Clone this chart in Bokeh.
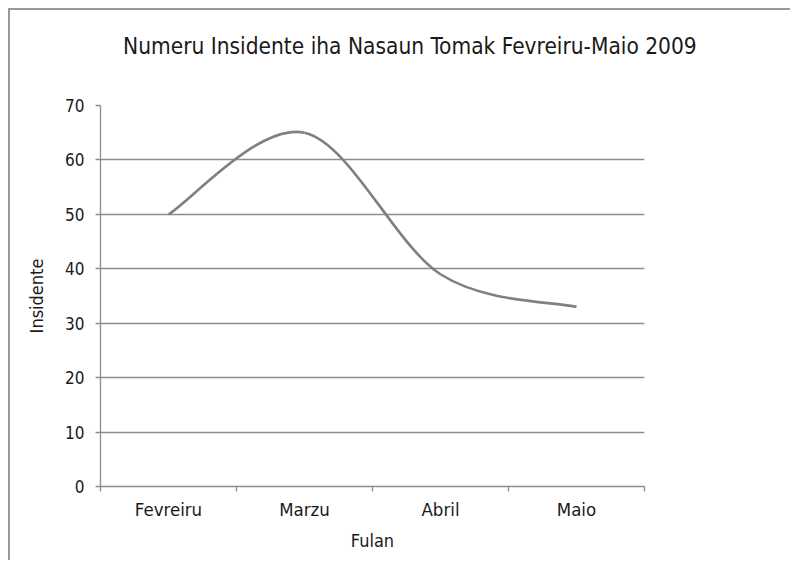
from bokeh.plotting import figure
from bokeh.models import Range1d, FixedTicker, Div
from bokeh.layouts import column
from bokeh.embed import file_html
from bokeh.resources import INLINE

# ---- data ----
months = ["Fevreiru", "Marzu", "Abril", "Maio"]
incidents = [50, 65, 39, 33]
y_ticks = [0, 10, 20, 30, 40, 50, 60, 70]
title_text = "Numeru Insidente iha Nasaun Tomak Fevreiru-Maio 2009"

FONT = "DejaVu Sans Condensed"
GREY = "#8c8c8c"

n = len(months)
xs = [i + 0.5 for i in range(n)]
centers = xs
bounds = [float(i) for i in range(n + 1)]

TITLE_H = 58
title_div = Div(
    text=(f"<div style=\"font-family:'{FONT}';font-size:22.5px;color:#1a1a1a;"
          f"line-height:1;padding-left:113px;padding-top:25px;white-space:nowrap\">"
          f"{title_text}</div>"),
    width=780, height=TITLE_H, margin=0)

p = figure(width=780, height=550 - TITLE_H, output_backend="svg", toolbar_location=None,
           x_range=Range1d(0, n), y_range=Range1d(y_ticks[0], y_ticks[-1]),
           min_border_left=90, min_border_right=146, min_border_top=95 - TITLE_H,
           min_border_bottom=74, margin=0)
p.title = None
p.outline_line_color = None
p.background_fill_color = "white"
p.border_fill_color = "white"

# smooth curve (Bezier) from data points
cx0, cy0, cx1, cy1 = [], [], [], []
for i in range(n - 1):
    xm1, ym1 = (xs[i - 1], incidents[i - 1]) if i > 0 else (xs[i], incidents[i])
    xp2, yp2 = (xs[i + 2], incidents[i + 2]) if i + 2 < n else (xs[i + 1], incidents[i + 1])
    cx0.append(xs[i] + (xs[i + 1] - xm1) / 6)
    cy0.append(incidents[i] + (incidents[i + 1] - ym1) / 6)
    cx1.append(xs[i + 1] - (xp2 - xs[i]) / 6)
    cy1.append(incidents[i + 1] - (yp2 - incidents[i]) / 6)
p.bezier(x0=xs[:-1], y0=incidents[:-1], x1=xs[1:], y1=incidents[1:],
         cx0=cx0, cy0=cy0, cx1=cx1, cy1=cy1,
         line_color="#808080", line_width=2.6)

# axes
p.xaxis.ticker = FixedTicker(ticks=centers, minor_ticks=bounds)
p.xaxis.major_label_overrides = {c: m for c, m in zip(centers, months)}
p.xaxis.major_tick_out = 0
p.xaxis.major_tick_in = 0
p.xaxis.minor_tick_out = 5
p.xaxis.minor_tick_in = 0
p.xaxis.minor_tick_line_color = GREY
p.xaxis.axis_label = "Fulan"

p.yaxis.ticker = FixedTicker(ticks=y_ticks)
p.yaxis.major_tick_out = 5
p.yaxis.major_tick_in = 0
p.yaxis.minor_tick_line_color = None
p.yaxis.axis_label = "Insidente"

for ax in (p.xaxis[0], p.yaxis[0]):
    ax.axis_line_color = GREY
    ax.axis_line_width = 1.3
    ax.major_tick_line_color = GREY
    ax.major_tick_line_width = 1.3
    ax.minor_tick_line_width = 1.3
    ax.major_label_text_font = FONT
    ax.major_label_text_color = "#1a1a1a"
    ax.axis_label_text_font = FONT
    ax.axis_label_text_font_size = "18px"
    ax.axis_label_text_font_style = "normal"
    ax.axis_label_text_color = "#1a1a1a"

p.xaxis.major_label_text_font_size = "18.5px"
p.yaxis.major_label_text_font_size = "17px"
p.xaxis.major_label_standoff = 7
p.xaxis.axis_label_standoff = 7
p.yaxis.major_label_standoff = 11
p.yaxis.axis_label_standoff = 15

p.xgrid.visible = False
p.ygrid.grid_line_color = GREY
p.ygrid.grid_line_width = 1.3

layout = column(title_div, p, spacing=0)
layout.styles = {"margin-left": "8px", "margin-top": "8px", "background-color": "white",
                 "border-left": "2px solid #9a9a9a", "border-top": "2px solid #9a9a9a"}

open("out.html", "w").write(file_html(layout, INLINE))
